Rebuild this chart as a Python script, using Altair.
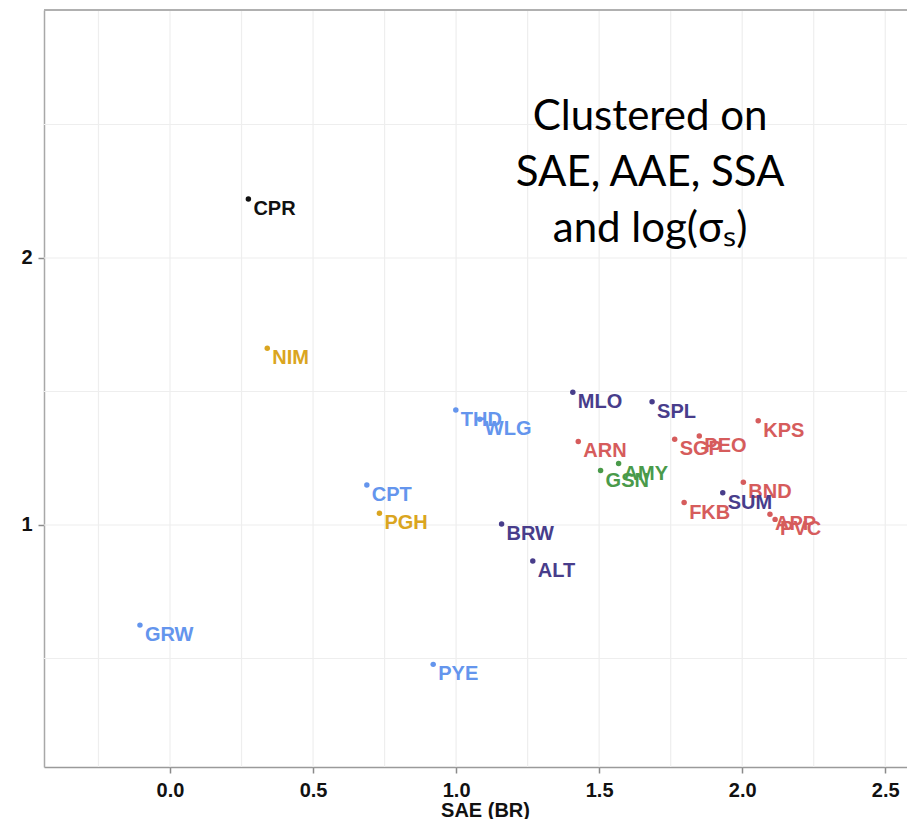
import altair as alt
import pandas as pd

# ---- data ----
sites = ["CPR", "NIM", "THD", "WLG", "MLO", "SPL", "KPS", "ARN", "SGP", "PEO",
         "AMY", "GSN", "CPT", "PGH", "BND", "SUM", "FKB", "APP", "PVC", "BRW",
         "ALT", "GRW", "PYE"]
sae_br = [0.274, 0.340, 0.999, 1.083, 1.408, 1.685, 2.056, 1.427, 1.764, 1.850,
          1.568, 1.505, 0.688, 0.732, 2.004, 1.932, 1.797, 2.097, 2.115, 1.159,
          1.268, -0.105, 0.920]
y_vals = [2.221, 1.662, 1.431, 1.396, 1.497, 1.462, 1.390, 1.313, 1.321, 1.333,
          1.230, 1.204, 1.150, 1.044, 1.160, 1.121, 1.084, 1.040, 1.021, 1.004,
          0.865, 0.625, 0.478]
cluster = ["1", "2", "3", "3", "4", "4", "5", "5", "5", "5",
           "6", "6", "3", "2", "5", "4", "5", "5", "5", "4",
           "4", "3", "3"]

cluster_names = ["1", "2", "3", "4", "5", "6"]
cluster_colors = ["#111111", "#DAA520", "#6495ED", "#483D8B", "#D65C5C", "#4A9A4A"]

x_ticks = [0.0, 0.5, 1.0, 1.5, 2.0, 2.5]
y_ticks = [1, 2]
x_grid = [-0.25, 0.0, 0.25, 0.5, 0.75, 1.0, 1.25, 1.5, 1.75, 2.0, 2.25, 2.5]
y_grid = [0.5, 1.0, 1.5, 2.0, 2.5]
x_domain = [-0.4404, 2.576]
y_domain = [0.0936, 2.9288]

note_text = ["Clustered on\nSAE, AAE, SSA\nand log(σₛ)"]
note_x = [1.678]
note_y = [2.479]

W, H = 863, 757

df = pd.DataFrame({"site": sites, "x": sae_br, "y": y_vals, "cluster": cluster})
gx = pd.DataFrame({"x": x_grid})
gy = pd.DataFrame({"y": y_grid})
notes = pd.DataFrame({"text": note_text, "x": note_x, "y": note_y})

label_font = "Liberation Sans"

x_axis = alt.Axis(values=x_ticks, format=".1f", grid=False, domainColor="#9A9A9A",
                  domainWidth=1.5, tickColor="#8A8A8A", tickWidth=1.5, tickSize=6,
                  labelPadding=7, labelFont=label_font, labelFontSize=20,
                  labelFontWeight="bold", labelColor="#111111",
                  titleFont=label_font, titleFontSize=20, titleFontWeight="bold",
                  titleColor="#111111", titleBaseline="top", titleY=33, titleX=441,
                  titleAlign="center")
y_axis = alt.Axis(values=y_ticks, format="d", grid=False, domainColor="#A8A8A8",
                  domainWidth=1.5, tickColor="#8A8A8A", tickWidth=1.5, tickSize=6,
                  labelPadding=6, labelFont=label_font, labelFontSize=20,
                  labelFontWeight="bold", labelColor="#111111", title="")

xs = alt.Scale(domain=x_domain, nice=False, zero=False)
ys = alt.Scale(domain=y_domain, nice=False, zero=False)


def X(field="x"):
    return alt.X(f"{field}:Q", scale=xs, axis=x_axis, title="SAE (BR)")


def Y(field="y"):
    return alt.Y(f"{field}:Q", scale=ys, axis=y_axis, title="")


grid_x = alt.Chart(gx).mark_rule(color="#EEEEEE", strokeWidth=1.2).encode(x=X())
grid_y = alt.Chart(gy).mark_rule(color="#EEEEEE", strokeWidth=1.2).encode(y=Y())

top_border = alt.Chart(gy).mark_rule(color="#B0B0B0", strokeWidth=1.5).encode(
    x=alt.value(0), x2=alt.value(W), y=alt.value(0)
)

color = alt.Color("cluster:N", scale=alt.Scale(domain=cluster_names, range=cluster_colors),
                  legend=None)

pts = alt.Chart(df).mark_circle(size=30, opacity=1).encode(x=X(), y=Y(), color=color)

labels = alt.Chart(df).mark_text(
    align="left", baseline="middle", dx=5, dy=10, font=label_font,
    fontSize=20, fontWeight="bold"
).encode(x=X(), y=Y(), text="site:N", color=color)

note = alt.Chart(notes).mark_text(
    align="center", baseline="alphabetic", font="Lato", fontSize=42,
    lineBreak="\n", lineHeight=56, color="#000000"
).encode(x=X(), y=Y(), text="text:N")

chart = alt.layer(grid_x, grid_y, top_border, pts, labels, note).properties(
    width=W, height=H,
    autosize=alt.AutoSizeParams(type="none"),
    padding={"left": 36, "top": 2, "right": 0, "bottom": 52},
    background="white",
).configure_view(stroke=None)

chart.save("out.html", embed_options={"renderer": "svg", "actions": False})
